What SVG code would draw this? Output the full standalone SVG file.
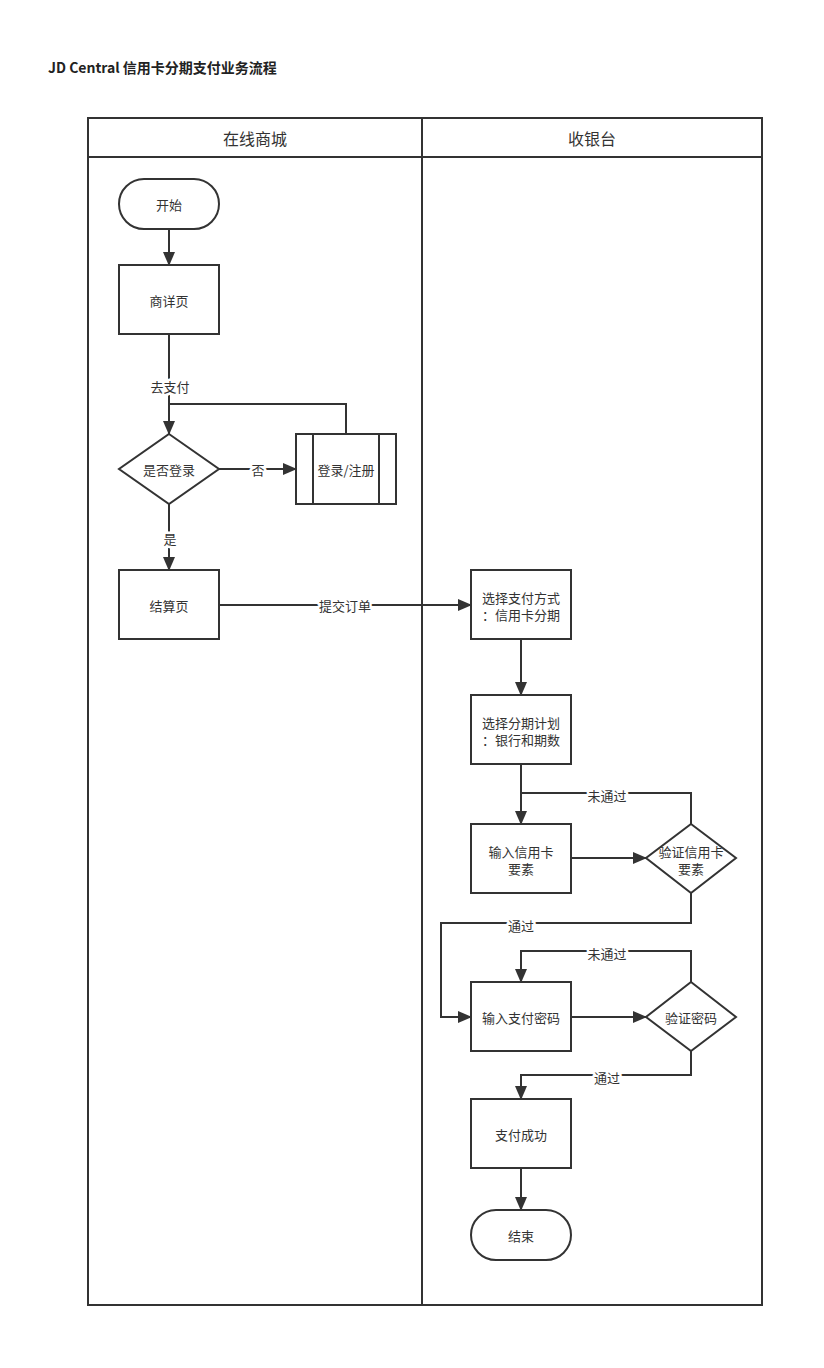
<svg xmlns="http://www.w3.org/2000/svg" width="824" height="1368" viewBox="0 0 824 1368">
<style>
  text{font-family:"Noto Sans CJK SC","Noto Sans",sans-serif;font-size:13px;fill:#333;text-anchor:middle;dominant-baseline:central}
  .title{font-size:14px;font-weight:bold;text-anchor:start;fill:#222}
  .hdr{font-size:16px}
  .shape{fill:#fff;stroke:#333;stroke-width:2}
  .pool{fill:none;stroke:#333;stroke-width:2}
  .edge{fill:none;stroke:#333;stroke-width:2}
  .lbl{stroke:#fff;stroke-width:5;paint-order:stroke;stroke-linejoin:round}
</style>
<defs>
  <marker id="arr" markerUnits="userSpaceOnUse" markerWidth="14" markerHeight="12" refX="13" refY="6" orient="auto">
    <path d="M0,0 L14,6 L0,12 Z" fill="#333"/>
  </marker>
</defs>
<rect width="824" height="1368" fill="#fff"/>
<text class="title" x="48" y="67">JD Central 信用卡分期支付业务流程</text>
<g id="pool">
  <rect class="pool" x="88" y="118" width="674" height="1187"/>
  <line class="pool" x1="422" y1="118" x2="422" y2="1305"/>
  <line class="pool" x1="88" y1="157" x2="762" y2="157"/>
  <text class="hdr" x="255" y="138">在线商城</text>
  <text class="hdr" x="592" y="138">收银台</text>
</g>
<g id="connectors">
  <path class="edge" d="M169,229 V265" marker-end="url(#arr)"/>
  <path class="edge" d="M169,334 V434" marker-end="url(#arr)"/>
  <path class="edge" d="M346,434 V404 H169"/>
  <path class="edge" d="M219,469 H296" marker-end="url(#arr)"/>
  <path class="edge" d="M169,504 V570" marker-end="url(#arr)"/>
  <path class="edge" d="M219,605 H471" marker-end="url(#arr)"/>
  <path class="edge" d="M521,639 V695" marker-end="url(#arr)"/>
  <path class="edge" d="M521,764 V824" marker-end="url(#arr)"/>
  <path class="edge" d="M691,824 V793 H521"/>
  <path class="edge" d="M571,858 H646" marker-end="url(#arr)"/>
  <path class="edge" d="M691,893 V923 H441 V1017 H471" marker-end="url(#arr)"/>
  <path class="edge" d="M691,982 V951 H521 V982" marker-end="url(#arr)"/>
  <path class="edge" d="M571,1017 H646" marker-end="url(#arr)"/>
  <path class="edge" d="M691,1051 V1075 H521 V1099" marker-end="url(#arr)"/>
  <path class="edge" d="M521,1168 V1210" marker-end="url(#arr)"/>
  <text class="lbl" x="170" y="386">去支付</text>
  <text class="lbl" x="258" y="469">否</text>
  <text class="lbl" x="170" y="538">是</text>
  <text class="lbl" x="345" y="605">提交订单</text>
  <text class="lbl" x="607" y="795">未通过</text>
  <text class="lbl" x="521" y="925">通过</text>
  <text class="lbl" x="607" y="953">未通过</text>
  <text class="lbl" x="607" y="1077">通过</text>
</g>
<g id="start"><rect class="shape" x="119" y="179" width="100" height="50" rx="25"/><text x="169" y="204">开始</text></g>
<g id="detail"><rect class="shape" x="119" y="265" width="100" height="69"/><text x="169" y="300">商详页</text></g>
<g id="isLogin"><path class="shape" d="M169,434 L219,469 L169,504 L119,469 Z"/><text x="169" y="469">是否登录</text></g>
<g id="login"><rect class="shape" x="296" y="434" width="100" height="70"/><line class="edge" x1="313" y1="434" x2="313" y2="504"/><line class="edge" x1="379" y1="434" x2="379" y2="504"/><text x="346" y="469">登录/注册</text></g>
<g id="checkout"><rect class="shape" x="119" y="570" width="100" height="69"/><text x="169" y="605">结算页</text></g>
<g id="payMethod"><rect class="shape" x="471" y="570" width="100" height="69"/><text x="521" y="597">选择支付方式</text><text x="521" y="614">：信用卡分期</text></g>
<g id="plan"><rect class="shape" x="471" y="695" width="100" height="69"/><text x="521" y="722">选择分期计划</text><text x="521" y="739">：银行和期数</text></g>
<g id="cardInput"><rect class="shape" x="471" y="824" width="100" height="69"/><text x="521" y="851">输入信用卡</text><text x="521" y="868">要素</text></g>
<g id="cardVerify"><path class="shape" d="M691,824 L736,858 L691,893 L646,858 Z"/><text x="691" y="851">验证信用卡</text><text x="691" y="868">要素</text></g>
<g id="pwdInput"><rect class="shape" x="471" y="982" width="100" height="69"/><text x="521" y="1017">输入支付密码</text></g>
<g id="pwdVerify"><path class="shape" d="M691,982 L736,1017 L691,1051 L646,1017 Z"/><text x="691" y="1017">验证密码</text></g>
<g id="success"><rect class="shape" x="471" y="1099" width="100" height="69"/><text x="521" y="1134">支付成功</text></g>
<g id="end"><rect class="shape" x="471" y="1210" width="100" height="50" rx="25"/><text x="521" y="1235">结束</text></g>
</svg>
